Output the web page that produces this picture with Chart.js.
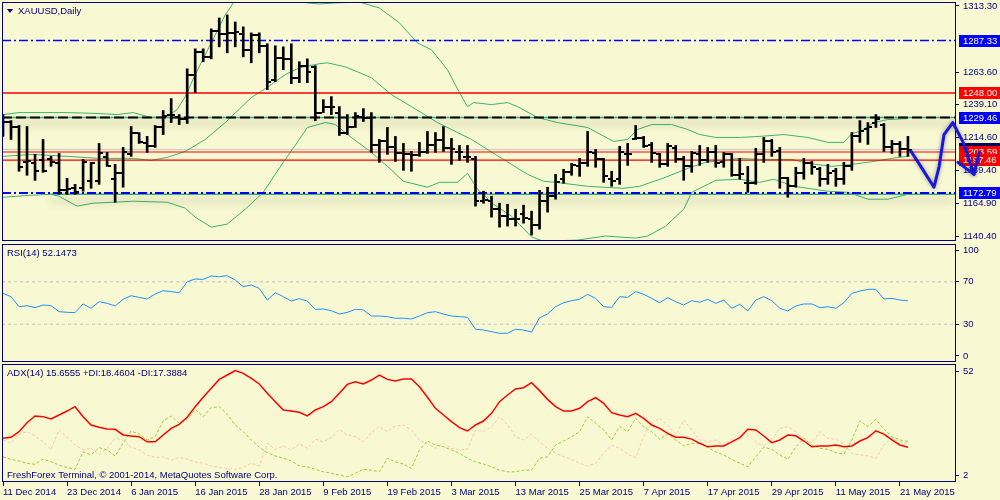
<!DOCTYPE html>
<html>
<head>
<meta charset="utf-8">
<script src="https://cdn.jsdelivr.net/npm/chart.js@4.4.1/dist/chart.umd.min.js"></script>
<style>
  html, body { margin: 0; padding: 0; background: #f8f8d2; }
  #wrap { position: relative; width: 1000px; height: 500px; overflow: hidden; background: #f8f8d2; }
  .pane { position: absolute; left: 0; width: 1000px; }
  #pricePane { top: 0; height: 243px; }
  #rsiPane { top: 243px; height: 120px; }
  #adxPane { top: 363px; height: 137px; }
</style>
</head>
<body>
<div id="wrap">
  <div class="pane" id="pricePane"><canvas id="priceChart"></canvas></div>
  <div class="pane" id="rsiPane"><canvas id="rsiChart"></canvas></div>
  <div class="pane" id="adxPane"><canvas id="adxChart"></canvas></div>
</div>
<script>
// XAUUSD daily bars, 11 Dec 2014 .. 22 May 2015 (x = bar number)
const dateLabels = ['11 Dec 2014', '23 Dec 2014', '6 Jan 2015', '16 Jan 2015', '28 Jan 2015', '9 Feb 2015',
    '19 Feb 2015', '3 Mar 2015', '13 Mar 2015', '25 Mar 2015', '7 Apr 2015', '17 Apr 2015',
    '29 Apr 2015', '11 May 2015', '21 May 2015'];
const dateTickIdx = [0, 8, 16, 24, 32, 40, 48, 56, 64, 72, 80, 88, 96, 104, 112];

const opens = [1229.5,1226.5,1222.7,1195.8,1195.0,1197.3,1198.0,1195.0,1174.8,1176.3,
    1176.3,1181.6,1181.6,1199.5,1183.1,1187.6,1201.8,1218.2,1210.0,1207.8,
    1222.7,1231.7,1230.2,1228.7,1261.7,1278.9,1275.1,1294.6,1292.3,1293.1,
    1292.3,1280.4,1291.6,1283.4,1257.9,1274.4,1273.6,1259.4,1268.4,1267.6,
    1233.2,1237.7,1233.2,1218.2,1222.7,1230.2,1229.5,1208.5,1211.5,1207.0,
    1202.5,1201.8,1201.0,1203.3,1208.5,1212.3,1206.3,1203.3,1199.5,1198.0,
    1166.6,1166.6,1160.6,1155.4,1153.1,1156.9,1153.1,1148.6,1166.6,1170.3,
    1183.1,1188.3,1192.8,1195.0,1202.5,1198.0,1183.1,1183.1,1201.8,1213.0,
    1213.8,1208.5,1201.8,1194.3,1206.3,1198.0,1192.8,1201.8,1197.3,1203.3,
    1195.8,1201.8,1186.1,1180.1,1180.1,1201.8,1211.5,1204.0,1183.8,1177.8,
    1187.6,1195.0,1190.6,1183.1,1189.1,1183.1,1192.8,1215.3,1220.5,1225.0,
    1224.2,1207.0,1209.3,1205.5];
const highs = [1231.7,1227.2,1223.5,1222.7,1201.8,1213.0,1200.3,1202.5,1183.8,1179.3,
    1198.0,1195.8,1210.0,1203.3,1194.3,1207.0,1222.7,1218.2,1215.3,1223.5,
    1234.7,1243.7,1231.7,1266.1,1281.1,1281.1,1296.1,1304.3,1306.6,1301.3,
    1297.6,1293.1,1293.1,1284.9,1283.4,1282.6,1284.9,1271.4,1273.6,1268.4,
    1242.9,1245.2,1237.7,1231.7,1233.2,1236.2,1233.2,1213.0,1222.0,1215.3,
    1210.0,1204.0,1210.8,1219.0,1218.2,1222.7,1213.8,1208.5,1208.5,1200.3,
    1174.1,1170.3,1165.1,1164.3,1160.6,1163.6,1159.1,1174.8,1177.1,1186.8,
    1190.6,1195.0,1198.8,1219.0,1205.5,1198.8,1189.1,1207.8,1210.0,1223.5,
    1215.3,1210.8,1202.5,1210.0,1208.5,1200.3,1204.0,1208.5,1207.0,1208.5,
    1203.3,1202.5,1198.8,1192.8,1206.3,1214.5,1213.0,1207.0,1184.6,1192.1,
    1198.8,1196.5,1192.1,1194.3,1191.3,1195.8,1218.2,1227.2,1225.7,1231.7,
    1225.0,1212.3,1211.5,1215.3];
const lows = [1215.3,1213.0,1189.1,1186.1,1182.3,1188.3,1192.8,1171.8,1171.8,1171.8,
    1174.1,1176.3,1179.3,1192.8,1165.8,1177.1,1200.3,1210.0,1203.3,1207.0,
    1216.7,1225.7,1224.2,1225.0,1248.2,1271.4,1273.6,1282.6,1278.1,1282.6,
    1275.1,1270.6,1278.1,1250.4,1256.4,1265.4,1254.9,1255.7,1255.7,1227.2,
    1233.2,1231.7,1216.0,1216.7,1222.0,1226.5,1203.3,1195.8,1201.8,1196.5,
    1189.8,1189.1,1200.3,1202.5,1203.3,1204.0,1194.3,1197.3,1195.8,1162.9,
    1165.1,1154.6,1147.1,1147.9,1147.9,1150.1,1141.2,1145.6,1158.4,1168.1,
    1180.1,1186.1,1185.3,1192.8,1192.1,1180.8,1177.8,1179.3,1193.5,1213.0,
    1207.0,1195.8,1192.1,1192.8,1195.8,1182.3,1188.3,1193.5,1195.8,1192.1,
    1192.1,1185.3,1183.1,1173.3,1179.3,1195.8,1200.3,1176.3,1169.6,1177.1,
    1183.1,1186.8,1177.8,1179.3,1177.8,1179.3,1189.8,1210.8,1209.3,1222.0,
    1204.0,1202.5,1200.3,1200.3];
const closes = [1226.5,1222.7,1192.1,1196.5,1189.1,1189.1,1195.8,1174.8,1175.6,1173.3,
    1195.8,1195.0,1202.5,1192.8,1187.6,1203.3,1218.2,1210.8,1207.8,1222.7,
    1231.0,1231.7,1228.7,1261.7,1278.9,1275.1,1294.6,1292.3,1293.1,1293.8,
    1280.4,1291.6,1283.4,1256.4,1274.4,1273.6,1259.4,1268.4,1263.9,1233.2,
    1237.7,1237.7,1218.2,1222.7,1231.0,1229.5,1208.5,1211.5,1207.0,1202.5,
    1201.8,1201.0,1203.3,1208.5,1212.3,1206.3,1205.5,1203.3,1199.5,1166.6,
    1167.3,1160.6,1155.4,1153.1,1153.1,1153.9,1148.6,1166.6,1170.3,1180.8,
    1188.3,1193.5,1195.0,1203.3,1198.0,1185.3,1181.6,1203.3,1201.8,1213.8,
    1207.8,1202.5,1194.3,1207.8,1198.0,1192.8,1202.5,1197.3,1203.3,1195.0,
    1201.8,1186.1,1186.8,1180.1,1201.8,1211.5,1203.3,1183.8,1177.8,1187.6,
    1195.0,1192.1,1183.1,1187.6,1183.1,1192.8,1215.3,1219.0,1222.0,1228.7,
    1207.0,1209.3,1205.5,1204.8];

// Bollinger bands as [bar, price]
const upperBand = [[0,1231.7],[2,1233.2],[8,1233.2],[12,1232.5],[14.25,1231.7],[16.25,1233.2],[18.5,1229.5],
    [20.5,1230.2],[21.75,1235.5],[22.75,1245.2],[24,1261.7],[25.25,1276.6],[26.5,1291.6],[27.75,1306.6],
    [29,1317.8],[31,1323.8],[33.5,1323.8],[36,1320],[38,1315.6],[39.5,1314.8],[41.5,1315.6],[44.5,1316.3],
    [47,1311.8],[49.5,1300.6],[51.75,1285.6],[53.5,1280.4],[55.5,1265.4],[57,1248.2],[58,1237.7],
    [58.75,1240.7],[61,1239.2],[63,1240.7],[64.25,1237.7],[66.75,1229.5],[69.25,1225.7],[73,1222],
    [76.25,1211.5],[78,1213],[79.25,1220.5],[81,1224.2],[83.5,1224.2],[85.5,1220.5],[87,1216.7],
    [89,1214.5],[92,1214.5],[94.5,1215.3],[97.5,1216.7],[100.5,1214.5],[103,1210.8],[105,1210.8],
    [106,1217.5],[107,1219],[108.75,1225.7],[110.5,1228],[113,1228.7]];
const midBand = [[0,1200.3],[3.75,1201.8],[8,1200.3],[12,1198.8],[16.25,1198.8],[18.5,1197.3],[20.5,1199.5],
    [22.75,1204],[25.25,1213],[27.75,1225.7],[31,1244.4],[32.75,1251.2],[35.25,1261.7],[37,1266.9],
    [39.5,1269.9],[40.5,1270.6],[42.75,1267.6],[46,1259.4],[48.5,1246.7],[51,1237.7],[54.25,1225.7],
    [58.5,1213],[62.5,1198],[65.5,1186.8],[67.5,1181.6],[69,1180.8],[73,1177.8],[77.5,1176.3],
    [79.5,1177.8],[82.75,1184.6],[85.5,1191.3],[87.75,1195.8],[90,1197.3],[92,1198.8],[94.5,1198],
    [98.5,1198],[100.5,1195],[103.5,1192.8],[106,1194.3],[108.75,1196.5],[111,1198.8],[113,1200.3]];
const lowBand = [[0,1169.6],[3.5,1171.1],[6,1171.8],[7,1170.3],[9.25,1162.9],[11.25,1165.1],[16.25,1166.6],
    [20.5,1165.8],[22.75,1161.4],[24,1154.6],[26,1147.1],[28,1149.4],[30.25,1160.6],[32.5,1173.3],
    [35,1195.8],[37,1213],[38,1222],[40.25,1225.7],[41.5,1224.2],[43.5,1214.5],[46,1203.3],[48,1192.8],
    [50,1181.6],[53,1177.1],[54.5,1180.8],[56.75,1180.8],[58,1187.6],[59.25,1175.6],[61.25,1164.3],
    [63.5,1155.4],[66,1139.7],[67.5,1136.5],[71.75,1137.4],[75.25,1140.4],[79,1138.9],[80.5,1140.4],
    [82.75,1147.9],[85,1160.6],[86,1173.3],[87.5,1177.8],[89,1182.3],[92,1183.1],[94.5,1180.8],
    [96.25,1183.1],[98.75,1177.8],[103,1174.1],[105.5,1173.3],[108,1168.1],[110.5,1168.1],[113,1171.8]];

// horizontal levels and right-hand price tags
const levelPrices = [1287.33, 1248.00, 1229.46, 1203.59, 1197.46, 1172.79];
const bidPrice = 1205.5;
const trendPrices = [1229.46, 1171.8];
const trendStart = [-0.125, 5.9];
const priceTicks = [1140.40, 1164.90, 1189.40, 1214.60, 1239.10, 1263.60, 1313.30];

// hand drawn forecast stroke [bar, price]
const sketchPath = [[113.4,1204.0],[114.6,1192.8],[116.25,1177.1],[116.9,1192.8],[117.5,1216.7],
    [118.6,1225.7],[119.9,1210.8],[121.25,1186.8]];
const sketchHead = [[119.25,1195.8],[121.25,1186.8],[121.9,1203.3]];

const rsiValues = [59.1,56,46.5,47.5,45.6,48.1,47.5,41.8,41.2,40.9,
    49.1,45,51.2,49.7,47.2,53.5,56.9,55.3,53.8,58.5,
    61.6,60.7,59.7,70.1,72.6,72.3,75.5,74.8,75.8,71.7,
    65.4,67,63.8,52.8,59.7,56,51.9,54.1,51.9,44,
    44.3,42.7,39.6,41.2,44,43.4,37.7,37.7,37.1,35.6,
    35.6,34.9,37.7,40.9,41.8,39.6,37.7,37.1,36.5,25.2,
    24.5,22.9,21.4,21.4,25.2,24.5,22.6,36.1,39.6,46.5,
    50.3,52.2,53.5,58.2,54.4,46.5,45.9,56,55.3,60.7,
    58.2,54.4,50.3,55,51.2,48.1,52.2,50.7,53.5,49.7,
    52.8,45,48.8,42.5,52.8,56,52.2,45,42.5,47.2,
    49.1,49.1,45.6,46.5,45,50.3,59.1,61.3,62.9,62.9,
    53.8,54.4,52.8,52.1];
const rsiLevels = [70, 30];
const rsiTicks = [0, 30, 70, 100];

const adxValues = [20.0,20.5,23.2,27.5,30.7,30.4,29.3,31.2,33.1,35.2,
    30.4,26.4,25.3,24.5,24.3,21.6,21.1,20.8,18.3,18.3,
    21.6,24.8,26.7,30.1,35.2,39.7,44.0,48.3,50.4,52.5,
    51.2,48.8,46.1,41.6,37.6,33.6,33.1,32.5,30.8,33.6,
    35.2,37.6,41.6,45.9,47.2,46.1,48.0,50.4,48.3,47.5,
    48.5,48.5,44.8,39.7,34.4,31.2,28.0,25.1,23.5,26.4,
    28.3,32.0,37.6,40.8,43.7,44.3,46.7,42.9,38.7,35.2,
    33.1,33.1,34.4,37.6,39.5,36.8,32.3,31.2,30.4,32.0,
    29.6,26.4,24.8,22.4,20.5,20.5,19.6,17.6,15.9,16.3,
    16.3,18.3,20.3,24.3,24.0,21.1,17.9,19.2,21.6,21.2,
    18.7,15.9,16.3,16.3,16.8,15.9,16.3,18.7,20.3,23.6,
    22.0,19.2,16.8,15.7];
const plusDI = [11.1,9.9,9.1,8.0,7.5,10.0,8.7,7.1,6.0,5.1,
    13.5,12.0,15.5,14.4,11.5,17.6,23.5,22.0,19.2,20.8,
    28.3,30.7,27.2,29.1,33.9,30.4,34.7,35.2,31.5,26.4,
    23.2,19.2,15.7,13.1,11.5,10.4,9.1,6.7,6.3,5.1,
    3.9,3.2,2.3,1.5,3.2,5.1,4.7,3.9,10.4,8.7,
    7.6,5.5,14.4,18.7,16.8,15.9,14.4,12.8,10.4,8.7,
    7.6,6.3,4.7,3.9,3.9,4.7,4.7,10.4,11.1,16.8,
    18.7,20.8,23.2,30.4,27.2,24.0,19.2,25.6,23.2,29.6,
    25.6,23.2,19.6,22.0,19.2,16.3,17.6,17.6,15.7,13.5,
    12.0,9.9,8.0,6.3,11.1,15.7,14.7,12.0,9.9,15.9,
    20.0,16.8,15.2,14.7,13.1,12.4,19.2,28.4,25.6,29.1,
    24.3,20.8,19.2,18.5];
const minusDI = [19.2,17.6,22.0,23.2,21.1,18.3,14.7,24.0,20.5,16.8,
    14.4,15.2,12.0,15.2,20.0,19.2,15.7,14.4,12.0,10.8,
    11.1,9.5,10.8,9.9,8.7,8.0,6.7,6.0,5.5,5.1,
    6.0,8.0,6.7,17.6,14.7,16.3,14.4,17.3,15.2,19.6,
    18.3,20.5,24.3,21.6,20.8,18.3,22.7,25.6,23.2,25.9,
    26.4,24.0,19.2,17.6,15.2,17.6,15.2,14.4,14.7,24.0,
    23.2,25.6,30.4,26.4,20.8,19.2,22.0,18.3,15.2,12.8,
    11.1,9.9,8.0,6.7,8.0,12.8,16.8,15.2,12.4,10.7,
    20.8,27.2,29.6,26.4,21.6,28.8,24.0,19.2,18.3,19.2,
    16.8,19.2,23.2,21.6,18.3,16.3,19.2,24.8,25.6,23.2,
    19.2,17.9,23.2,20.0,19.5,17.3,12.8,12.0,11.5,10.4,
    16.8,20.0,18.3,17.4];
const adxTicks = [2, 52];

// ---- look ----
const NAVY = '#000080';
const BAND = '#3cb371';
const FONT = { family: "'Liberation Sans', Arial, sans-serif", size: 9.5 };
const FONT_CSS = "9.5px 'Liberation Sans', Arial, sans-serif";
const X_MIN = -0.125, X_MAX = 119;
const levelColors = ['#0000ff', '#ff0000', '#000000', '#ff0000', '#ff0000', '#0000ff'];
const levelDash = [[9, 3, 2, 3], [], [10, 4], [], [], [9, 3, 2, 3]];
const levelWidth = [1.5, 1.5, 2, 1.2, 1.2, 2];
const tagColors = ['#0000ff', '#ff0000', '#0000ff', '#ff0000', '#ff0000', '#0000ff'];

const pts = arr => arr.map(p => ({ x: p[0], y: p[1] }));
const series = arr => arr.map((v, i) => ({ x: i, y: v }));
const flat = (v, from) => [{ x: from, y: v }, { x: X_MAX, y: v }];

// no automatic label overhang padding: panes must line up exactly
function noOverhang(s) {
    s.paddingTop = 0; s.paddingBottom = 0; s.paddingLeft = 0; s.paddingRight = 0;
}

function xAxis(show) {
    return {
        type: 'linear', min: X_MIN, max: X_MAX, offset: false, display: show,
        border: { display: false },
        grid: { display: show, drawOnChartArea: false, color: NAVY, tickLength: 4 },
        afterBuildTicks: s => { s.ticks = dateTickIdx.map(v => ({ value: v })); },
        afterFit: s => { if (show) s.height = 18; noOverhang(s); },
        ticks: {
            autoSkip: false, maxRotation: 0, align: 'start', padding: 1, color: NAVY, font: FONT,
            callback: (v, i) => dateLabels[i]
        }
    };
}

function yAxis(min, max, tickValues, fmt) {
    return {
        type: 'linear', position: 'right', min: min, max: max,
        border: { display: false },
        grid: { drawOnChartArea: false, color: NAVY, tickLength: 3 },
        afterBuildTicks: s => { s.ticks = tickValues.map(v => ({ value: v })); },
        afterFit: s => { s.width = 44; noOverhang(s); },
        ticks: { color: NAVY, font: FONT, padding: 4, callback: fmt }
    };
}

// navy frame round every pane
const paneFrame = {
    id: 'paneFrame',
    afterDraw(chart) {
        const { ctx, chartArea: a } = chart;
        ctx.save();
        ctx.strokeStyle = NAVY;
        ctx.lineWidth = 1;
        ctx.strokeRect(a.left + 0.5, a.top + 0.5, a.right - a.left - 1, a.bottom - a.top - 1);
        ctx.restore();
    }
};

// pane caption (top left) and optional footer
const caption = {
    id: 'caption',
    afterDraw(chart, args, opts) {
        const { ctx, chartArea: a } = chart;
        ctx.save();
        ctx.font = FONT_CSS;
        ctx.fillStyle = NAVY;
        ctx.textBaseline = 'middle';
        let tx = a.left + 5;
        if (opts.triangle) {
            ctx.beginPath();
            ctx.moveTo(a.left + 5, a.top + 7);
            ctx.lineTo(a.left + 11, a.top + 7);
            ctx.lineTo(a.left + 8, a.top + 11);
            ctx.closePath();
            ctx.fill();
            tx = a.left + 16;
        }
        if (opts.text) ctx.fillText(opts.text, tx, a.top + 9);
        if (opts.footer) ctx.fillText(opts.footer, a.left + 5, a.bottom - 7);
        ctx.restore();
    }
};

// soft shadow under the two trend lines
const lineShadow = {
    id: 'lineShadow',
    beforeDatasetDraw(chart, args) {
        if (!chart.data.datasets[args.index].shadow) return;
        const ctx = chart.ctx;
        ctx.save();
        ctx.shadowColor = 'rgba(40,40,20,0.45)';
        ctx.shadowBlur = 9;
        ctx.shadowOffsetY = 6;
    },
    afterDatasetDraw(chart, args) {
        if (chart.data.datasets[args.index].shadow) chart.ctx.restore();
    }
};

// open / close ticks of the bars
const ohlcTicks = {
    id: 'ohlcTicks',
    afterDatasetsDraw(chart) {
        const { ctx, chartArea: a, scales: { x, y } } = chart;
        ctx.save();
        ctx.beginPath();
        ctx.rect(a.left, a.top, a.right - a.left, a.bottom - a.top);
        ctx.clip();
        ctx.fillStyle = '#000';
        for (let i = 0; i < closes.length; i++) {
            const px = Math.round(x.getPixelForValue(i));
            const po = Math.round(y.getPixelForValue(opens[i]));
            const pc = Math.round(y.getPixelForValue(closes[i]));
            ctx.fillRect(px - 4, po - 1, 3, 2);
            ctx.fillRect(px + 1, pc - 1, 3, 2);
        }
        ctx.restore();
    }
};

// coloured price tags on the right axis and the forecast stroke
const priceTags = {
    id: 'priceTags',
    afterDraw(chart) {
        const { ctx, chartArea: a, scales: { x, y } } = chart;
        ctx.save();
        ctx.font = FONT_CSS;
        ctx.textBaseline = 'middle';
        const tag = (p, bg) => {
            const py = Math.round(y.getPixelForValue(p));
            ctx.fillStyle = bg;
            ctx.fillRect(a.right + 3, py - 6, chart.width - a.right - 3, 12);
            ctx.fillStyle = '#ffffff';
            ctx.fillText(p.toFixed(2), a.right + 7, py + 0.5);
        };
        tag(bidPrice, '#000060');
        levelPrices.forEach((p, i) => tag(p, tagColors[i]));

        const stroke = list => {
            ctx.beginPath();
            list.forEach((p, i) => {
                const px = x.getPixelForValue(p[0]);
                const py = y.getPixelForValue(p[1]);
                if (i === 0) ctx.moveTo(px, py); else ctx.lineTo(px, py);
            });
            ctx.stroke();
        };
        ctx.strokeStyle = '#1818d8';
        ctx.lineWidth = 3;
        ctx.lineJoin = 'round';
        ctx.lineCap = 'round';
        ctx.shadowColor = 'rgba(0,0,80,0.4)';
        ctx.shadowBlur = 4;
        stroke(sketchPath);
        stroke(sketchHead);
        ctx.restore();
    }
};

Chart.register(paneFrame, caption, lineShadow);

const baseOptions = {
    responsive: true,
    maintainAspectRatio: false,
    animation: false,
    events: [],
    plugins: { legend: { display: false }, tooltip: { enabled: false } },
    elements: { point: { radius: 0 }, line: { tension: 0 } }
};

function lineSet(data, color, width, dash, order) {
    return { type: 'line', data: data, borderColor: color, borderWidth: width, borderDash: dash || [],
        pointRadius: 0, fill: false, order: order };
}

// ---- price pane ----
const priceSets = [];
priceSets.push({
    type: 'bar', order: 0,
    data: highs.map((h, i) => ({ x: i, y: [lows[i], h] })),
    backgroundColor: '#000000', barThickness: 2, borderWidth: 0
});
levelPrices.forEach((p, i) => priceSets.push(lineSet(flat(p, X_MIN), levelColors[i], levelWidth[i], levelDash[i], 1)));
trendPrices.forEach((p, i) => {
    const s = lineSet(flat(p, trendStart[i]), BAND, 1.5, [], 2);
    s.shadow = true;
    priceSets.push(s);
});
priceSets.push(lineSet(flat(bidPrice, X_MIN), '#c8c8c8', 1, [], 3));
[upperBand, midBand, lowBand].forEach(b => priceSets.push(lineSet(pts(b), BAND, 1, [], 2)));

new Chart(document.getElementById('priceChart'), {
    type: 'line',
    data: { datasets: priceSets },
    options: Object.assign({}, baseOptions, {
        layout: { padding: { left: 2, right: 0, top: 2, bottom: 2 }, autoPadding: false },
        plugins: Object.assign({}, baseOptions.plugins, { caption: { text: 'XAUUSD,Daily', triangle: true } }),
        scales: {
            x: xAxis(false),
            y: yAxis(1136.7, 1316.3, priceTicks, v => Number(v).toFixed(2))
        }
    }),
    plugins: [ohlcTicks, priceTags]
});

// ---- RSI pane ----
const rsiSets = [lineSet(series(rsiValues), '#1e90ff', 1, [], 0)];
rsiLevels.forEach(v => rsiSets.push(lineSet(flat(v, X_MIN), '#c0c0c0', 1, [3, 3], 1)));

new Chart(document.getElementById('rsiChart'), {
    type: 'line',
    data: { datasets: rsiSets },
    options: Object.assign({}, baseOptions, {
        layout: { padding: { left: 2, right: 0, top: 1, bottom: 1 }, autoPadding: false },
        plugins: Object.assign({}, baseOptions.plugins, { caption: { text: 'RSI(14) 52.1473' } }),
        scales: {
            x: xAxis(false),
            y: yAxis(-5.7, 105.7, rsiTicks, v => String(v))
        }
    })
});

// ---- ADX pane ----
new Chart(document.getElementById('adxChart'), {
    type: 'line',
    data: {
        datasets: [
            lineSet(series(adxValues), '#ff0000', 1.5, [], 0),
            lineSet(series(plusDI), '#9acd32', 1, [3, 2], 1),
            lineSet(series(minusDI), '#f5caa8', 1, [3, 2], 2)
        ]
    },
    options: Object.assign({}, baseOptions, {
        layout: { padding: { left: 2, right: 0, top: 1, bottom: 0 }, autoPadding: false },
        plugins: Object.assign({}, baseOptions.plugins, {
            caption: {
                text: 'ADX(14) 15.6555 +DI:18.4604 -DI:17.3884',
                footer: 'FreshForex Terminal, \u00a9 2001-2014, MetaQuotes Software Corp.'
            }
        }),
        scales: {
            x: xAxis(true),
            y: yAxis(-1.0, 55.7, adxTicks, v => String(v))
        }
    })
});
</script>
</body>
</html>
